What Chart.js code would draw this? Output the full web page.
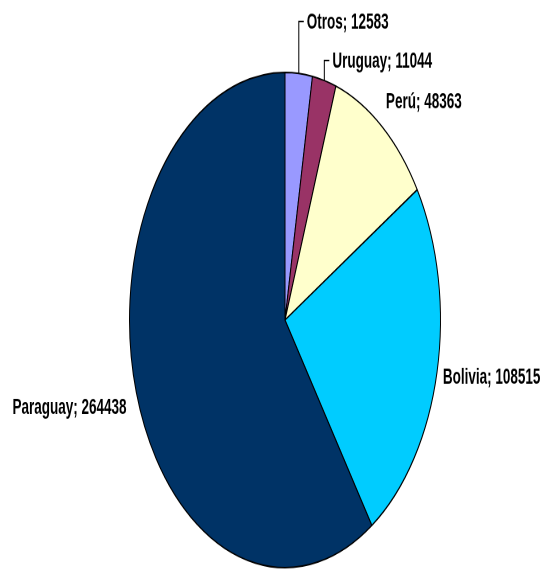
<!DOCTYPE html>
<html lang="es">
<head>
  <meta charset="UTF-8" />
  <title>Pie</title>
  <script src="https://cdn.jsdelivr.net/npm/chart.js"></script>
  <style>
    html, body { margin: 0; padding: 0; background: #fff; }
    #pie { display: block; width: 546px; height: 570px; }
  </style>
</head>
<body>
  <canvas id="pie" width="546" height="358" style="width:546px;height:570px"></canvas>

  <script>
    const paises = ["Otros", "Uruguay", "Perú", "Bolivia", "Paraguay"];
    const cantidades = [12583, 11044, 48363, 108515, 264438];
    const colores = ["#9999FF", "#993366", "#FFFFCC", "#00CCFF", "#003366"];
    // small nudges for the label boxes (canvas px, before the vertical stretch)
    const ajusteX = [0, 0, 0, 0, -4];
    const ajusteY = [0, 0, -5, 1, 6];

    // labels "Name; value" next to each slice, small slices get a leader line
    const etiquetas = {
      id: "etiquetas",
      afterDatasetsDraw(chart) {
        const ctx = chart.ctx;
        const arcs = chart.getDatasetMeta(0).data;
        ctx.save();
        ctx.font = "bold 13.5px 'Liberation Sans', Arial, sans-serif";
        ctx.fillStyle = "#000";
        ctx.strokeStyle = "#000";
        ctx.lineWidth = 1;
        let nChico = 0;
        arcs.forEach((arc, i) => {
          const { x, y, startAngle, endAngle, outerRadius } = arc.getProps(
            ["x", "y", "startAngle", "endAngle", "outerRadius"], true);
          const mid = (startAngle + endAngle) / 2;
          const cos = Math.cos(mid), sin = Math.sin(mid);
          const px = x + cos * outerRadius;
          const py = y + sin * outerRadius;
          const texto = paises[i] + "; " + cantidades[i];
          if (endAngle - startAngle < 0.2) {
            const nivel = y - outerRadius - 32 + nChico * 24.5;
            nChico++;
            ctx.beginPath();
            ctx.moveTo(px, py);
            ctx.lineTo(px, nivel);
            ctx.lineTo(px + 5, nivel);
            ctx.stroke();
            ctx.textAlign = "left";
            ctx.textBaseline = "middle";
            ctx.fillText(texto, px + 8, nivel + 1);
            return;
          }
          const gap = 6;
          const lx = px + cos * gap + ajusteX[i];
          const ly = py + sin * gap + sin * 7 + ajusteY[i];
          ctx.textAlign = cos >= 0 ? "left" : "right";
          ctx.textBaseline = "middle";
          ctx.fillText(texto, lx, ly);
        });
        ctx.restore();
      }
    };

    new Chart(document.getElementById("pie"), {
      type: "pie",
      data: {
        labels: paises,
        datasets: [{
          data: cantidades,
          backgroundColor: colores,
          borderColor: "#000",
          borderWidth: 1
        }]
      },
      options: {
        responsive: false,
        animation: false,
        devicePixelRatio: 2,
        layout: { padding: { top: 45, bottom: 1, left: 129, right: 105 } },
        plugins: {
          legend: { display: false },
          tooltip: { enabled: false }
        }
      },
      plugins: [etiquetas]
    });
  </script>
</body>
</html>
